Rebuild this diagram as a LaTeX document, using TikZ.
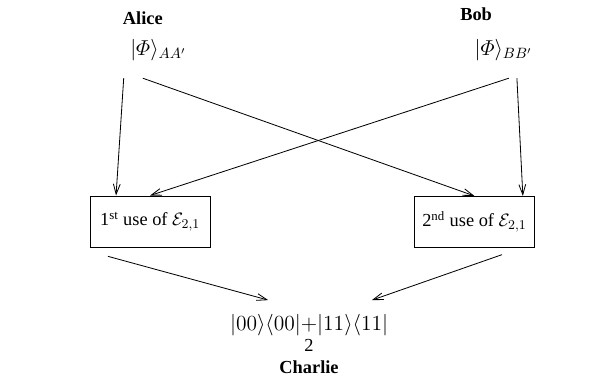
\documentclass[tikz,border=0pt]{standalone}
\usepackage{amsmath}
\usepackage{fontspec}
\setmainfont{Liberation Serif}
\usetikzlibrary{arrows.meta,positioning}

\begin{document}
\begin{tikzpicture}[
    font=\fontsize{12.3}{14}\selectfont,
    arr/.style={draw, line width=0.55pt, -{Straight Barb[length=2.4mm,width=1.6mm]}},
    usebox/.style={draw, line width=0.6pt, minimum width=2.82cm, minimum height=1.2cm},
    ket/.style={font=\fontsize{14.5}{16}\selectfont}
]
    \useasboundingbox (0,0) rectangle (14.35,9.01);

    % Parties
    \node (alice) at (3.36,8.59) {\textbf{Alice}};
    \node[ket] (phiA) at (3.72,7.83) {$|\varPhi\rangle_{AA'}$};

    \node (bob) at (11.20,8.68) {\textbf{Bob}};
    \node[ket] (phiB) at (11.84,7.83) {$|\varPhi\rangle_{BB'}$};

    % Channel uses
    \node[usebox] (use1) at (3.53,3.80) {1\textsuperscript{st} use of $\mathcal{E}_{2,1}$};
    \node[usebox] (use2) at (11.16,3.79) {2\textsuperscript{nd} use of $\mathcal{E}_{2,1}$};

    % Output state
    \node[ket] (state) at (7.27,1.36) {$|00\rangle\langle00|{+}|11\rangle\langle11|$};
    \node (two) at (7.27,0.89) {2};
    \node (charlie) at (7.27,0.38) {\textbf{Charlie}};

    % Arrows
    \draw[arr] ([shift={(-0.81,-0.66)}]phiA.center) -- ([xshift=-0.80cm]use1.north);
    \draw[arr] ([shift={(-0.36,-0.66)}]phiA.center) -- (use2.north);
    \draw[arr] ([shift={(0.13,-0.66)}]phiB.center) -- (use1.north);
    \draw[arr] ([shift={(0.32,-0.66)}]phiB.center) -- ([xshift=1.14cm]use2.north);

    \draw[arr] ([shift={(-0.99,-0.21)}]use1.south) -- ([shift={(-0.96,0.59)}]state.center);
    \draw[arr] ([shift={(0.65,-0.16)}]use2.south) -- ([shift={(1.48,0.59)}]state.center);
\end{tikzpicture}
\end{document}
